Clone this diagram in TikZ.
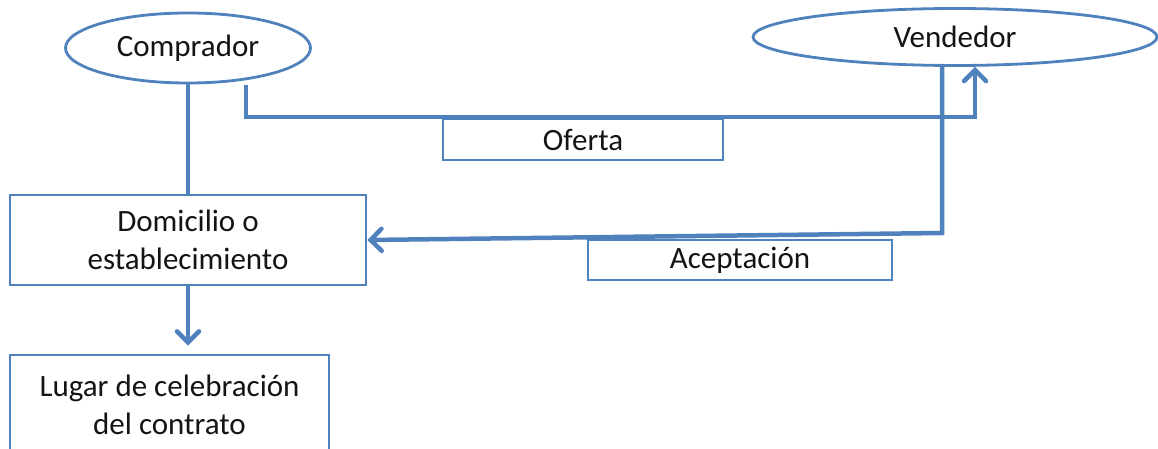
\documentclass[tikz,border=0pt]{standalone}
\usepackage{fontspec}
\setmainfont{Carlito}
\usetikzlibrary{shapes.geometric,arrows.meta}
\definecolor{lineblue}{RGB}{79,129,189}
\definecolor{txt}{RGB}{20,20,20}
\tikzset{
  party/.style={ellipse, draw=lineblue, line width=2.8pt, inner sep=0pt, text=txt,
    font=\fontsize{31}{38}\selectfont},
  box/.style={rectangle, draw=lineblue, line width=2.8pt, inner sep=0pt, text=txt,
    align=center, font=\fontsize{31}{38}\selectfont},
  conn/.style={draw=lineblue, line width=4.5pt},
  tip/.style={-{Straight Barb[length=11pt,width=22pt,line width=4.5pt,line cap=round]}}
}
\begin{document}
\begin{tikzpicture}[x=1pt,y=-1pt]
\useasboundingbox (0,0) rectangle (1158,449);
\clip (0,0) rectangle (1158,449);
\fill[white] (0,0) rectangle (1158,449);

% parties
\node[party, minimum width=245, minimum height=70] (comp) at (188,48) {Comprador};
\node[party, minimum width=404, minimum height=57] (vend) at (955,37) {Vendedor};

% places
\node[box, minimum width=356, minimum height=90] (dom) at (188,240) {Domicilio o\\establecimiento};
\node[box, minimum width=319, minimum height=100] (lugar) at (169.5,405) {Lugar de celebración\\del contrato};

% message labels
\node[box, minimum width=280, minimum height=41] (ofe) at (583,139.5) {Oferta};
\node[box, minimum width=304, minimum height=40] (acep) at (740,260) {Aceptación};

% connector corners
\coordinate (offstart) at (246,85);
\coordinate (offcorner) at (975,117);
\coordinate (accstart) at (942,64);
\coordinate (acccorner) at (942,233);

% buyer to its domicile
\draw[conn] (comp.south) -- (dom.north);
% offer sent to the seller
\draw[conn, tip] (offstart) |- (offcorner) -- (vend.south -| offcorner);
% acceptance returned to the buyer's domicile
\draw[conn, tip] (accstart) -- (acccorner) -- (dom.east);
% domicile determines the place of the contract
\draw[conn, tip, shorten >=8pt] (dom.south) -- (dom.south |- lugar.north);
\end{tikzpicture}
\end{document}
